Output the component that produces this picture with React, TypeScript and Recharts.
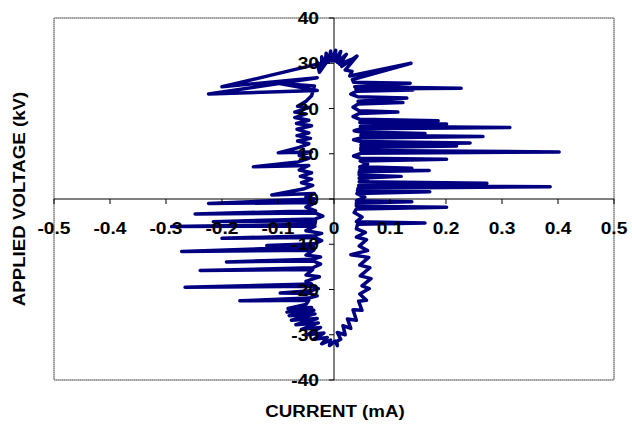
// Lissajous-style voltage/current loop with discharge spikes

import { LineChart, Line, XAxis, YAxis, CartesianGrid, ReferenceLine, ReferenceArea, ReferenceDot } from 'recharts';

const xTicks = [-0.5, -0.4, -0.3, -0.2, -0.1, 0, 0.1, 0.2, 0.3, 0.4, 0.5];
const yTicks = [-40, -30, -20, -10, 0, 10, 20, 30, 40];

// [current mA, voltage kV] in trace order
const risingLower: [number, number][] = [
  [0.0, -31.8], [0.012, -31], [0.006, -29.5], [0.02, -30], [0.016, -28], [0.03, -28.6],
  [0.024, -26.5], [0.04, -26.8], [0.034, -24.5], [0.05, -24.6], [0.044, -22.6], [0.058, -22.4],
  [0.046, -21], [0.063, -19.8], [0.05, -19.2], [0.066, -17.6], [0.047, -17], [0.064, -15.2],
  [0.046, -14.6], [0.062, -12.9], [0.03, -12.3], [0.06, -11.4], [0.045, -10.4], [0.058, -9],
  [0.04, -8.4], [0.056, -7.4], [0.04, -6.6], [0.042, -5.6], [0.1625, -5.3], [0.04, -5.0],
  [0.05, -4], [0.036, -3], [0.04, -2.2], [0.201, -1.8], [0.04, -1.6], [0.04, -0.9],
  [0.139, -0.6], [0.04, -0.4],
];

const risingUpper: [number, number][] = [
  [0.055, 0.4], [0.041, 1.2], [0.171, 1.6], [0.042, 1.8], [0.043, 2.4], [0.386, 2.7],
  [0.044, 3.0], [0.273, 3.5], [0.045, 3.8], [0.06, 4.2], [0.045, 4.6], [0.12, 5.0],
  [0.045, 5.3], [0.045, 6.0], [0.17, 6.3], [0.046, 6.5], [0.139, 6.8], [0.046, 7.1],
  [0.06, 7.7], [0.047, 8.4], [0.201, 8.8], [0.047, 9.0], [0.035, 9.5], [0.048, 10.1],
  [0.402, 10.4], [0.048, 10.7], [0.048, 11.4], [0.219, 11.7], [0.048, 12.0], [0.243, 12.4],
  [0.048, 12.7], [0.035, 13.1], [0.048, 13.5], [0.266, 13.8], [0.048, 14.1], [0.1625, 14.5],
  [0.048, 14.8], [0.036, 15.1], [0.047, 15.5], [0.314, 15.8], [0.047, 16.1], [0.201, 16.6],
  [0.046, 16.9], [0.186, 17.3], [0.046, 17.6], [0.034, 18.2], [0.045, 18.9], [0.114, 19.2],
  [0.045, 19.5], [0.034, 20.3], [0.043, 21.0], [0.123, 21.3], [0.043, 21.6], [0.13, 22.3],
  [0.042, 22.6], [0.03, 23.2], [0.04, 23.8], [0.141, 24.1], [0.039, 24.3], [0.227, 24.5],
  [0.037, 24.8], [0.136, 25.6], [0.035, 25.8], [0.033, 26.4], [0.1375, 30.0], [0.028, 27.2],
];

const crown: [number, number][] = [
  [0.032, 28.2], [0.02, 28.5], [0.041, 31.6], [0.014, 29.3], [0.03, 30.8], [0.01, 29.8],
  [0.022, 32], [0.006, 30.2], [0.012, 32.6], [0.002, 30.5], [0.003, 32.9], [-0.004, 30.5],
  [-0.006, 32.7], [-0.01, 30.2], [-0.014, 32.2], [-0.016, 29.8], [-0.022, 31.4], [-0.022, 29],
  [-0.03, 30.2], [-0.026, 28], [-0.013, 30.3],
];

const fallingUpper: [number, number][] = [
  [-0.2, 24.8], [-0.03, 26.8], [-0.224, 23.2], [-0.03, 24.0], [-0.1, 25.6], [-0.035, 25],
  [-0.04, 22.8], [-0.05, 21.6], [-0.065, 20.5], [-0.045, 20.2], [-0.07, 19.2], [-0.05, 18.8],
  [-0.07, 18], [-0.045, 17.4], [-0.067, 16.7], [-0.04, 16.2], [-0.066, 15.4], [-0.045, 14.6],
  [-0.066, 14], [-0.042, 13.4], [-0.065, 12.8], [-0.045, 12.2], [-0.062, 11.4], [-0.0995, 10.2],
  [-0.04, 10.4], [-0.062, 9.6], [-0.045, 9.0], [-0.064, 8.2], [-0.144, 7.1], [-0.045, 7.4],
  [-0.062, 6.4], [-0.04, 5.8], [-0.06, 5], [-0.04, 4.4], [-0.058, 3.6], [-0.038, 3],
  [-0.055, 2.2], [-0.111, 0.9], [-0.035, 1.2], [-0.05, 0.4], [-0.035, 0],
];

const fallingLower: [number, number][] = [
  [-0.224, -1.0], [-0.033, -0.8], [-0.05, -1.8], [-0.033, -2.6], [-0.248, -3.3], [-0.033, -3.1],
  [-0.02, -3.8], [-0.033, -4.4], [-0.2155, -5.0], [-0.033, -4.8], [-0.034, -5.6], [-0.29, -6.1],
  [-0.034, -6.0], [-0.05, -7], [-0.022, -7.6], [-0.035, -8.1], [-0.2, -8.7], [-0.035, -8.5],
  [-0.022, -9.2], [-0.036, -9.9], [-0.12, -10.3], [-0.036, -10.6], [-0.272, -11.6], [-0.036, -11.3],
  [-0.05, -12.4], [-0.024, -12.8], [-0.037, -13.3], [-0.192, -13.9], [-0.037, -13.7], [-0.024, -14.4],
  [-0.038, -15.2], [-0.239, -15.8], [-0.038, -15.6], [-0.05, -16.8], [-0.026, -17.2], [-0.036, -17.6],
  [-0.05, -18.2], [-0.04, -18.8], [-0.266, -19.5], [-0.04, -19.3], [-0.028, -19.8], [-0.042, -20.3],
  [-0.096, -20.8], [-0.042, -20.9], [-0.03, -21.4], [-0.045, -21.9], [-0.168, -22.5], [-0.045, -22.4],
  [-0.05, -23.3], [-0.082, -24.2], [-0.04, -24], [-0.084, -25], [-0.036, -24.6], [-0.08, -25.8],
  [-0.034, -25.4], [-0.076, -26.8], [-0.03, -26.4], [-0.068, -27.8], [-0.028, -27.4], [-0.058, -28.8],
  [-0.024, -28.4], [-0.048, -30], [-0.018, -29.6], [-0.036, -31], [-0.012, -30.6], [-0.022, -32],
  [-0.006, -31.2], [-0.008, -32.4], [0.002, -31.4], [0.006, -32.4], [0.005, -31.6],
];

const data = [...risingLower, ...risingUpper, ...crown, ...fallingUpper, ...fallingLower].map(
  ([current, voltage]) => ({ current, voltage }),
);

const FONT = '"Liberation Sans", Arial, sans-serif';
const STRETCH = 1.2;

function xTickShape(label: string) {
  return (p: any) => (
    <g>
      <line x1={p.cx} y1={p.cy} x2={p.cx} y2={p.cy + 5} stroke="#000" />
      <text
        transform={`translate(${p.cx},${p.cy + 35}) scale(${STRETCH},1)`}
        textAnchor="middle"
        fontFamily={FONT}
        fontWeight="bold"
        fontSize={16}
        fill="#000"
      >
        {label}
      </text>
    </g>
  );
}

function yTickShape(label: string) {
  return (p: any) => (
    <g>
      <line x1={p.cx - 5} y1={p.cy} x2={p.cx} y2={p.cy} stroke="#000" />
      <text
        transform={`translate(${p.cx - 15},${p.cy + 6}) scale(${STRETCH},1)`}
        textAnchor="end"
        fontFamily={FONT}
        fontWeight="bold"
        fontSize={16}
        fill="#000"
      >
        {label}
      </text>
    </g>
  );
}

const titleStyle = {
  position: 'absolute' as const,
  whiteSpace: 'nowrap' as const,
  font: `bold 16px ${FONT}`,
  color: '#000',
};

export default function App() {
  return (
    <div style={{ position: 'absolute', left: 0, top: 0, width: 632, height: 427, background: '#fff' }}>
      <LineChart width={632} height={427} data={data} margin={{ top: 18, right: 18, bottom: 47, left: 54 }}>
        <XAxis
          type="number"
          dataKey="current"
          domain={[-0.5, 0.5]}
          ticks={xTicks}
          tick={false}
          axisLine={false}
          tickLine={false}
          height={0}
        />
        <YAxis
          type="number"
          domain={[-40, 40]}
          ticks={yTicks}
          tick={false}
          axisLine={false}
          tickLine={false}
          width={0}
        />
        <CartesianGrid stroke="#808080" strokeDasharray="1 1" />
        <ReferenceArea x1={-0.5} x2={0.5} y1={-40} y2={40} fill="none" stroke="#808080" strokeWidth={1} />
        <ReferenceLine x={0} stroke="#000" strokeWidth={1} />
        <ReferenceLine y={0} stroke="#000" strokeWidth={1} />
        <Line
          type="linear"
          dataKey="voltage"
          stroke="#000080"
          strokeWidth={3.5}
          strokeLinejoin="round"
          dot={false}
          isAnimationActive={false}
        />
        {xTicks.map((v) => (
          <ReferenceDot key={`x${v}`} x={v} y={0} r={0} shape={xTickShape(String(v))} />
        ))}
        {yTicks.map((v) => (
          <ReferenceDot key={`y${v}`} x={0} y={v} r={0} shape={yTickShape(String(v))} />
        ))}
      </LineChart>
      <div style={{ ...titleStyle, left: 20, top: 199, transform: `translate(-50%,-50%) rotate(-90deg) scaleX(1.17)` }}>
        APPLIED VOLTAGE (kV)
      </div>
      <div style={{ ...titleStyle, left: 335, top: 412, transform: `translate(-50%,-50%) scaleX(1.17)` }}>
        CURRENT (mA)
      </div>
    </div>
  );
}
